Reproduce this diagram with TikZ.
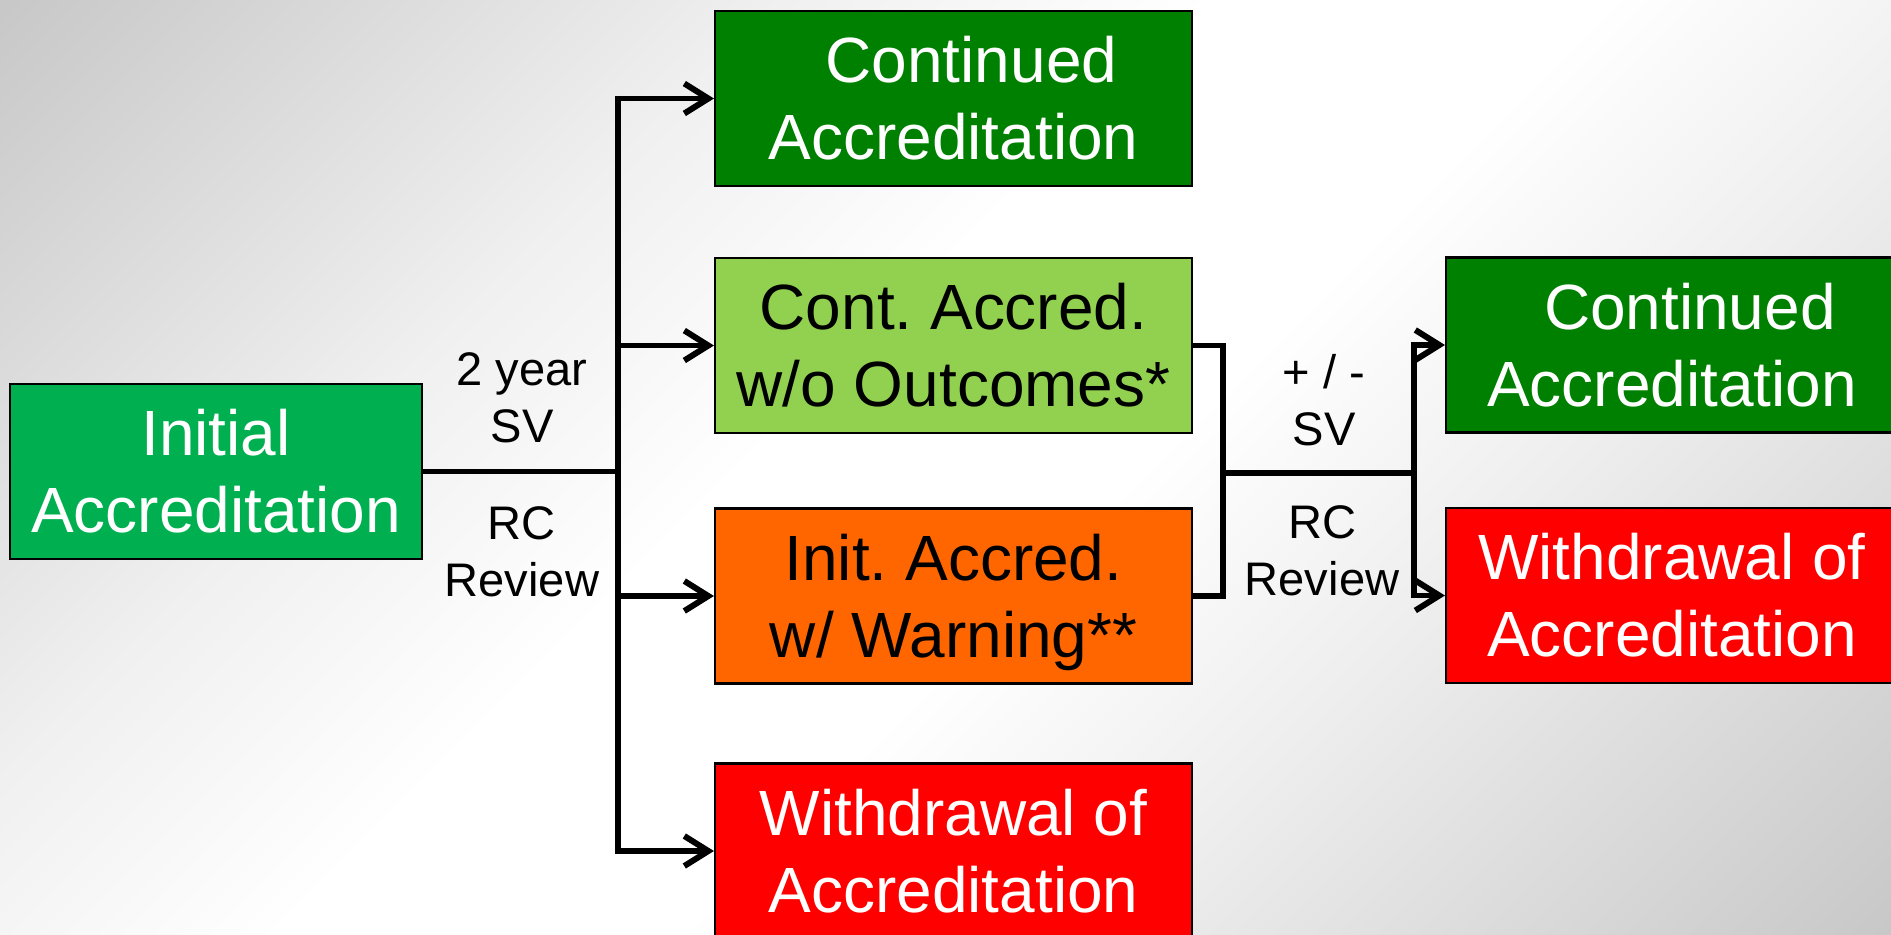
\documentclass[tikz,border=0pt]{standalone}
\usepackage{fontspec}
\setmainfont{Liberation Sans}
\usetikzlibrary{arrows.meta}
\definecolor{initgreen}{RGB}{0,176,80}
\definecolor{contgreen}{RGB}{0,128,0}
\definecolor{lightgreen}{RGB}{146,208,80}
\definecolor{warnorange}{RGB}{255,102,0}
\definecolor{wdred}{RGB}{255,0,0}
\pgfdeclareverticalshading{bgdiag}{100bp}{color(0bp)=(black!33); color(18bp)=(black!19); color(34bp)=(black!7);
  color(45bp)=(white); color(55bp)=(white); color(66bp)=(black!6); color(82bp)=(black!19); color(100bp)=(black!33)}
\frenchspacing
\begin{document}
\begin{tikzpicture}[
    box/.style={draw=black, line width=0.6pt, minimum width=4.77cm, minimum height=1.75cm,
      inner sep=0pt, align=center, font=\fontsize{18.2}{21.9}\selectfont},
    lbl/.style={align=center, inner sep=0pt, font=\fontsize{13.4}{16.2}\selectfont},
    flow/.style={line width=1.7pt},
    arr/.style={flow, -{Straight Barb[length=0.24cm, width=0.3cm]}}]
        \useasboundingbox (0,0) rectangle (18.91,9.34);
        \clip (0,0) rectangle (18.91,9.34);
        \shade[shading=bgdiag, shading angle=45] (0,0) rectangle (18.91,9.34);
        % boxes
        \node[box, fill=initgreen, text=white, minimum width=4.12cm] (init) at (2.16,4.625) {Initial\\Accreditation};
        \node[box, fill=contgreen, text=white] (cont) at (9.535,8.355) {\hspace*{0.56em}Continued\\Accreditation};
        \node[box, fill=lightgreen] (contwo) at (9.535,5.885) {Cont. Accred.\\w/o Outcomes*};
        \node[box, fill=warnorange] (initw) at (9.535,3.38) {Init. Accred.\\w/ Warnin\smash{g}**};
        \node[box, fill=wdred, text=white] (wdl) at (9.535,0.83) {Withdrawal of\\Accreditation};
        \node[box, fill=contgreen, text=white, minimum width=4.52cm] (contr) at (16.72,5.89) {\hspace*{0.56em}Continued\\Accreditation};
        \node[box, fill=wdred, text=white, minimum width=4.52cm] (wdr) at (16.72,3.385) {Withdrawal of\\Accreditation};
        % labels
        \node[lbl] (sv) at (5.22,5.365) {2 year\\SV};
        \node[lbl] (rc) at (5.22,3.825) {RC\\Review};
        \node[lbl] (resv) at (13.24,5.335) {+ / -\\SV};
        \node[lbl] (rerc) at (13.22,3.83) {RC\\Review};
        % connectors
        \coordinate (split) at (6.18,4.625);
        \coordinate (brk) at (12.23,4.61);
        \coordinate (join) at (14.14,4.61);
        \draw[flow] (init.east) -- (split);
        \draw[arr] (split) |- (cont.west);
        \draw[arr] (split) |- (contwo.west);
        \draw[arr] (split) |- (initw.west);
        \draw[arr] (split) |- (wdl.west);
        \draw[flow] (contwo.east) -- (brk |- contwo.east) -- (brk |- initw.east) -- (initw.east);
        \draw[flow] (brk) -- (join);
        \draw[arr] (join) |- (contr.west);
        \draw[arr] (join) |- (wdr.west);
\end{tikzpicture}
\end{document}
